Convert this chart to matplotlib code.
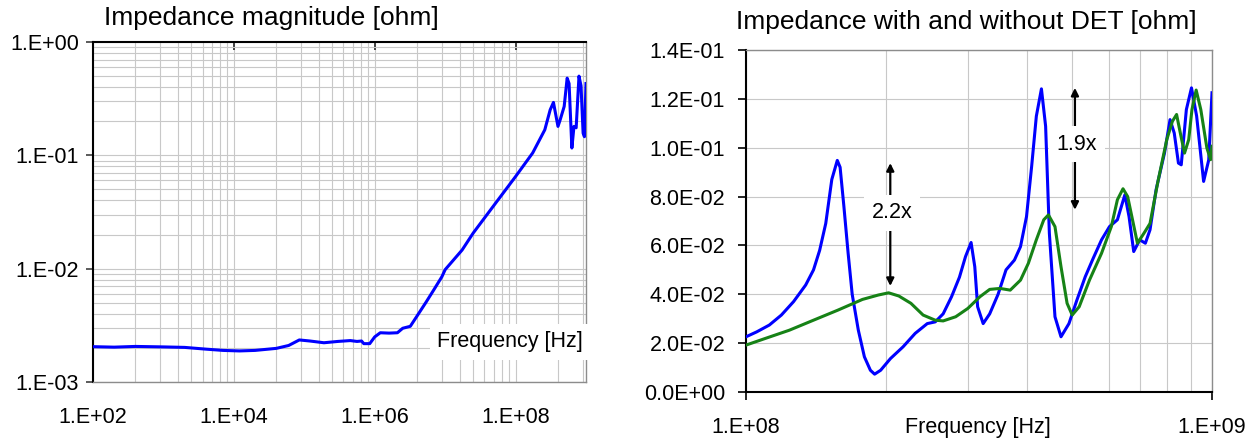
import numpy as np
import matplotlib
matplotlib.use('Agg')
import matplotlib.pyplot as plt
from matplotlib.ticker import FixedLocator, FuncFormatter, NullFormatter

plt.rcParams['font.family'] = ['Liberation Sans', 'DejaVu Sans']

# ---- dados: grafico da esquerda (|Z| em toda a faixa)
freq_full = [1e2, 2e2, 4e2, 1e3, 2e3, 4e3, 7e3, 1.2e4, 2e4, 4e4, 6e4, 8.5e4,
             1.2e5, 1.9e5, 3e5, 4.5e5, 5.6e5, 6.5e5, 7e5, 8.5e5, 1e6, 1.2e6,
             1.6e6, 2.1e6, 2.5e6, 3.2e6, 3.9e6, 5.4e6, 6.9e6, 9e6, 1e7, 1.74e7,
             2.5e7, 4.8e7, 1e8, 1.75e8, 2.6e8, 3.1e8, 3.45e8, 4e8, 4.3e8, 4.9e8,
             5.4e8, 5.75e8, 6.3e8, 6.75e8, 7.25e8, 7.95e8, 8.5e8, 9.1e8, 9.5e8, 1e9]
z_full = [2.05e-3, 2.03e-3, 2.06e-3, 2.04e-3, 2.02e-3, 1.95e-3, 1.9e-3, 1.88e-3,
          1.9e-3, 1.98e-3, 2.1e-3, 2.35e-3, 2.3e-3, 2.22e-3, 2.28e-3, 2.32e-3,
          2.28e-3, 2.3e-3, 2.18e-3, 2.18e-3, 2.5e-3, 2.72e-3, 2.7e-3, 2.72e-3,
          2.98e-3, 3.1e-3, 3.74e-3, 5.1e-3, 6.5e-3, 8.5e-3, 9.8e-3, 0.0146,
          0.0206, 0.0354, 0.065, 0.105, 0.168, 0.252, 0.293, 0.18, 0.206, 0.27,
          0.48, 0.43, 0.116, 0.18, 0.175, 0.50, 0.41, 0.157, 0.146, 0.43]

# ---- dados: grafico da direita (MHz)
freq_sem_det = [100, 105.4, 112.2, 119.1, 126.5, 134.3, 139.6, 143.9, 148.3, 152.8,
                157.0, 159.2, 162.2, 165.6, 169.0, 174.2, 179.5, 184.9, 188.8, 194.5,
                204.2, 217.3, 230.7, 244.9, 254.7, 264.9, 276.1, 287.1, 295.8, 304.1,
                309.7, 314.1, 322.8, 333.4, 347.5, 361.4, 376.7, 388.2, 399.9, 410.2,
                419.8, 430.5, 439.5, 447.7, 460.3, 474.2, 493.2, 512.9, 534.6, 555.9,
                579.4, 602.6, 626.6, 650.1, 663.7, 679.2, 699.8, 719.4, 736.2, 758.6,
                790.7, 812.8, 829.8, 847.2, 859.0, 881.0, 903.6, 926.8, 959.4, 984.0, 1000]
z_sem_det = [0.0226, 0.0246, 0.0274, 0.0315, 0.037, 0.0438, 0.05, 0.058, 0.069, 0.087,
             0.0948, 0.092, 0.076, 0.057, 0.040, 0.0253, 0.0144, 0.0089, 0.0073, 0.0089,
             0.0137, 0.0185, 0.024, 0.028, 0.0287, 0.032, 0.039, 0.047, 0.0554, 0.0612,
             0.0513, 0.0349, 0.028, 0.032, 0.040, 0.050, 0.054, 0.0595, 0.0718, 0.0924,
             0.1129, 0.1241, 0.1088, 0.065, 0.0308, 0.0226, 0.028, 0.0376, 0.0472, 0.0547,
             0.0623, 0.0677, 0.0705, 0.0807, 0.0718, 0.0575, 0.0623, 0.0609, 0.0664, 0.0828,
             0.0978, 0.1115, 0.106, 0.0937, 0.093, 0.1156, 0.1245, 0.113, 0.0862, 0.095, 0.1225]

freq_com_det = [100, 109.9, 123.9, 139.6, 157.4, 177.8, 192.3, 202.3, 212.8, 225.9,
                239.9, 254.7, 264.9, 281.8, 299.2, 317.7, 333.4, 350.8, 369.0, 388.2,
                403.6, 419.8, 435.5, 445.6, 460.3, 474.2, 488.7, 501.2, 518.8, 545.8,
                579.4, 608.1, 626.6, 644.2, 659.2, 673.0, 691.8, 714.5, 736.2, 765.6,
                799.8, 822.2, 839.5, 855.1, 873.0, 891.3, 905.7, 924.7, 946.2, 975.0, 993.1, 1000]
z_com_det = [0.0192, 0.0219, 0.0253, 0.0294, 0.0335, 0.0379, 0.0397, 0.0406, 0.0393, 0.0363,
             0.0315, 0.0294, 0.0291, 0.0308, 0.0342, 0.039, 0.042, 0.0424, 0.0417, 0.0458,
             0.0527, 0.0623, 0.0705, 0.0725, 0.0677, 0.0513, 0.0363, 0.0315, 0.0349, 0.0458,
             0.0568, 0.0677, 0.0787, 0.0832, 0.080, 0.0718, 0.0609, 0.065, 0.069, 0.0862,
             0.1033, 0.1108, 0.1136, 0.106, 0.0978, 0.1033, 0.1156, 0.1236, 0.1156, 0.0999, 0.0951, 0.1006]

# setas: (freq MHz, topo, base, posicao do texto, texto)
setas = [(204, 0.0937, 0.0434, 0.0733, '2.2x'),
         (508, 0.1245, 0.0746, 0.1015, '1.9x')]

azul = '#0000ff'
verde = '#168216'
cinza_grade = '#c8c8c8'
cinza_borda = '#8c8c8c'
fs_tick = 15.5


def fmt_exp(v, pos):
    e = int(round(np.log10(v)))
    return "1.E{:+03d}".format(e)


fig = plt.figure(figsize=(12.55, 4.38), dpi=100)

# ================= grafico da esquerda
ax1 = fig.add_axes([93/1255, 1-382/438, 493/1255, 340/438])
ax1.plot(freq_full, z_full, color=azul, lw=2.2, zorder=3)
ax1.set_xscale('log')
ax1.set_yscale('log')
ax1.set_xlim(1e2, 1e9)
ax1.set_ylim(1e-3, 1e0)

ax1.xaxis.set_major_locator(FixedLocator([1e2, 1e4, 1e6, 1e8]))
minx = [1e2 * 100**j * k**2 for j in range(4) for k in range(2, 10)]
ax1.xaxis.set_minor_locator(FixedLocator([m for m in minx if m < 1e9]))
ax1.yaxis.set_major_locator(FixedLocator([1e-3, 1e-2, 1e-1, 1e0]))
ax1.yaxis.set_minor_locator(FixedLocator([k * 10.0**d for d in (-3, -2, -1) for k in range(2, 10)]))
ax1.xaxis.set_major_formatter(FuncFormatter(fmt_exp))
ax1.yaxis.set_major_formatter(FuncFormatter(fmt_exp))
ax1.xaxis.set_minor_formatter(NullFormatter())
ax1.yaxis.set_minor_formatter(NullFormatter())
ax1.grid(True, which='both', color=cinza_grade, lw=0.8)
ax1.set_axisbelow(True)

ax1.tick_params(axis='x', which='major', bottom=False, top=True, direction='in',
                length=6, width=1.4, color='#404040', labelsize=fs_tick, pad=18)
ax1.tick_params(axis='y', which='major', left=True, direction='out', length=5,
                width=1.2, color='#404040', labelsize=fs_tick, pad=5)
ax1.tick_params(which='minor', length=0)
for s in ['left', 'top']:
    ax1.spines[s].set_color('black')
    ax1.spines[s].set_linewidth(1.5)
for s in ['right', 'bottom']:
    ax1.spines[s].set_color(cinza_borda)
    ax1.spines[s].set_linewidth(1.0)

ax1.text(0.846, 0.118, 'Frequency [Hz]', transform=ax1.transAxes, ha='center',
         va='center', fontsize=fs_tick, zorder=4,
         bbox=dict(boxstyle='square,pad=0.35', fc='white', ec='none'))
fig.text(104/1255, 1-18/438, 'Impedance magnitude [ohm]', ha='left', va='center', fontsize=19)

# ================= grafico da direita
ax2 = fig.add_axes([746/1255, 1-392/438, 466/1255, 342/438])
ax2.plot(np.array(freq_sem_det) * 1e6, z_sem_det, color=azul, lw=2.2, zorder=3)
ax2.plot(np.array(freq_com_det) * 1e6, z_com_det, color=verde, lw=2.2, zorder=3)
ax2.set_xscale('log')
ax2.set_xlim(1e8, 1e9)
ax2.set_ylim(0, 0.14)
ax2.xaxis.set_major_locator(FixedLocator([1e8, 1e9]))
ax2.xaxis.set_minor_locator(FixedLocator([k * 1e8 for k in range(2, 10)]))
ax2.xaxis.set_major_formatter(FuncFormatter(fmt_exp))
ax2.xaxis.set_minor_formatter(NullFormatter())
ax2.yaxis.set_major_locator(FixedLocator(np.arange(0, 0.141, 0.02)))
ax2.yaxis.set_major_formatter(FuncFormatter(lambda v, p: "{:.1E}".format(v)))
ax2.grid(True, which='both', color=cinza_grade, lw=0.8)
ax2.set_axisbelow(True)
ax2.tick_params(which='major', direction='out', length=6, width=1.2, color='black',
                labelsize=fs_tick)
ax2.tick_params(axis='x', which='major', pad=12)
ax2.tick_params(axis='y', which='major', pad=9)
ax2.tick_params(which='minor', length=0)
for s in ['left', 'bottom']:
    ax2.spines[s].set_color('black')
    ax2.spines[s].set_linewidth(1.5)
for s in ['right', 'top']:
    ax2.spines[s].set_color(cinza_borda)
    ax2.spines[s].set_linewidth(1.0)

ax2.text(0.497, -0.072, 'Frequency [Hz]', transform=ax2.transAxes, ha='center',
         va='top', fontsize=fs_tick)

for f, topo, base, ytxt, txt in setas:
    ax2.annotate('', xy=(f * 1e6, topo), xytext=(f * 1e6, base),
                 arrowprops=dict(arrowstyle='<|-|>', color='black', lw=1.6,
                                 mutation_scale=11, shrinkA=0, shrinkB=0), zorder=4)
    ax2.text(f * 1e6 * 1.01, ytxt, txt, ha='center', va='center', fontsize=fs_tick, zorder=5,
             bbox=dict(boxstyle='square,pad=0.35', fc='white', ec='none'))

fig.text(966/1255, 1-22/438, 'Impedance with and without DET [ohm]', ha='center',
         va='center', fontsize=19)

fig.savefig('out.png', dpi=100)
